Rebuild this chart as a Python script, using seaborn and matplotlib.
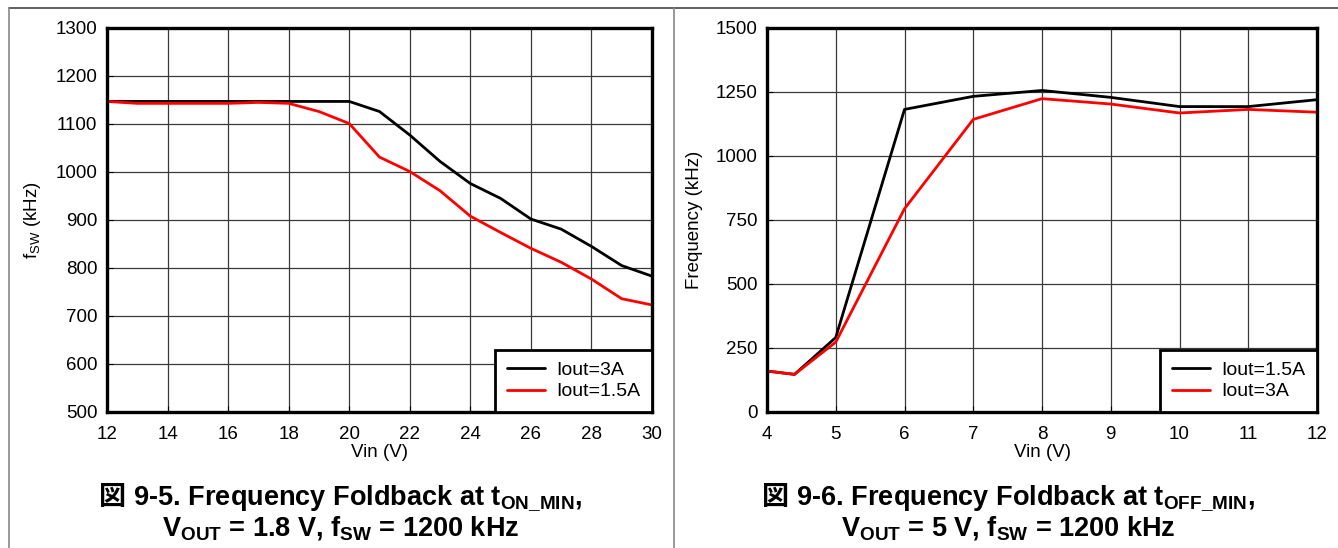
import numpy as np
import matplotlib.pyplot as plt
from matplotlib.lines import Line2D
import seaborn as sns

# left chart: Vin vs fsw at tON_MIN
vin_on = [12, 13, 14, 15, 16, 17, 18, 19, 20, 21, 22, 23, 24, 25, 26, 27, 28, 29, 30]
fsw_3a = [1147, 1147, 1147, 1147, 1147, 1147, 1147, 1147, 1147, 1126, 1077, 1022, 976,
          945, 902, 881, 845, 805, 783]
fsw_15a = [1147, 1143, 1143, 1143, 1143, 1145, 1143, 1126, 1101, 1031, 1001, 961, 908,
           874, 841, 812, 777, 736, 723]

# right chart: Vin vs frequency at tOFF_MIN
vin_off = [4, 4.4, 5, 6, 7, 8, 9, 10, 11, 12]
freq_15a = [160, 147, 291, 1182, 1233, 1256, 1229, 1193, 1193, 1220]
freq_3a = [160, 147, 273, 794, 1143, 1224, 1203, 1168, 1182, 1171]

sns.set_style('white')
plt.rcParams['font.family'] = ['Liberation Sans', 'DejaVu Sans']
plt.rcParams['mathtext.fontset'] = 'custom'
plt.rcParams['mathtext.rm'] = 'Liberation Sans'
plt.rcParams['mathtext.bf'] = 'Liberation Sans:bold'
plt.rcParams['text.color'] = 'black'
plt.rcParams['axes.labelcolor'] = 'black'

W, H = 1338, 548
fig = plt.figure(figsize=(W / 100, H / 100), dpi=100)
ax1 = fig.add_axes([107/W, 1 - 412/H, 545/W, 384/H])
ax2 = fig.add_axes([767/W, 1 - 412/H, 550/W, 384/H])


def style_axes(ax, xlim, ylim, xticks, yticks):
    ax.set_xlim(*xlim)
    ax.set_ylim(*ylim)
    ax.set_xticks(xticks)
    ax.set_yticks(yticks)
    ax.grid(True, color='#3a3a3a', lw=0.9)
    ax.set_axisbelow(True)
    for s in ax.spines.values():
        s.set_visible(True)
        s.set_color('black')
        s.set_linewidth(2.4)
    ax.tick_params(direction='in', length=4, width=0.8, labelsize=13.5,
                   colors='black', left=True, bottom=True)
    ax.tick_params(axis='x', pad=10)
    ax.tick_params(axis='y', pad=7)
    ax.set_xlabel('Vin (V)', fontsize=13.5, labelpad=1)


sns.lineplot(x=vin_on, y=fsw_3a, color='black', lw=2, ax=ax1, label='Iout=3A')
sns.lineplot(x=vin_on, y=fsw_15a, color='#ff0000', lw=2, ax=ax1, label='Iout=1.5A')
style_axes(ax1, (12, 30), (500, 1300), list(range(12, 31, 2)), list(range(500, 1301, 100)))
ax1.set_ylabel(r'f$_\mathregular{SW}$ (kHz)', fontsize=13.5, labelpad=9)

sns.lineplot(x=vin_off, y=freq_15a, color='black', lw=2, ax=ax2, label='Iout=1.5A')
sns.lineplot(x=vin_off, y=freq_3a, color='#ff0000', lw=2, ax=ax2, label='Iout=3A')
style_axes(ax2, (4, 12), (0, 1500), list(range(4, 13)), list(range(0, 1501, 250)))
ax2.set_ylabel('Frequency (kHz)', fontsize=13.5, labelpad=9)

for ax in (ax1, ax2):
    leg = ax.legend(loc='lower right', bbox_to_anchor=(1, 0), borderaxespad=0,
                    fancybox=False, fontsize=14, handlelength=1.95, framealpha=1,
                    borderpad=0.6, labelspacing=0.2, handletextpad=0.6)
    leg.get_frame().set_edgecolor('black')
    leg.get_frame().set_linewidth(2)

# captions, centred under each panel
tsize = 19.5
captions = []
for cx, line1, line2 in [
        (341, r' 9-5. Frequency Foldback at t$_\mathbf{ON\_MIN}$,',
         r'V$_\mathbf{OUT}$ = 1.8 V, f$_\mathbf{SW}$ = 1200 kHz'),
        (1008, r' 9-6. Frequency Foldback at t$_\mathbf{OFF\_MIN}$,',
         r'V$_\mathbf{OUT}$ = 5 V, f$_\mathbf{SW}$ = 1200 kHz')]:
    zu = fig.text(0, 1 - 505/H, '図', family=['Noto Sans CJK JP'], weight='bold',
                  fontsize=tsize, va='baseline', ha='left')
    rest = fig.text(0, 1 - 505/H, line1, weight='bold', fontsize=tsize,
                    va='baseline', ha='left')
    fig.text(cx / W, 1 - 535/H, line2, weight='bold', fontsize=tsize,
             va='baseline', ha='center')
    captions.append((cx, zu, rest))

fig.canvas.draw()
renderer = fig.canvas.get_renderer()
for cx, zu, rest in captions:
    w_zu = tsize * 100 / 72
    w_rest = rest.get_window_extent(renderer).width
    start = cx - (w_zu + w_rest) / 2
    zu.set_x(start / W)
    rest.set_x((start + w_zu) / W)

# page frame lines
fig.add_artist(Line2D([9/W, 1], [1 - 8/H, 1 - 8/H], transform=fig.transFigure,
                      color='#444444', lw=1.2))
fig.add_artist(Line2D([9/W, 9/W], [0, 1 - 8/H], transform=fig.transFigure,
                      color='#888888', lw=1.2))
fig.add_artist(Line2D([674/W, 674/W], [0, 1 - 8/H], transform=fig.transFigure,
                      color='#888888', lw=1.2))

fig.savefig('out.png', dpi=100)
